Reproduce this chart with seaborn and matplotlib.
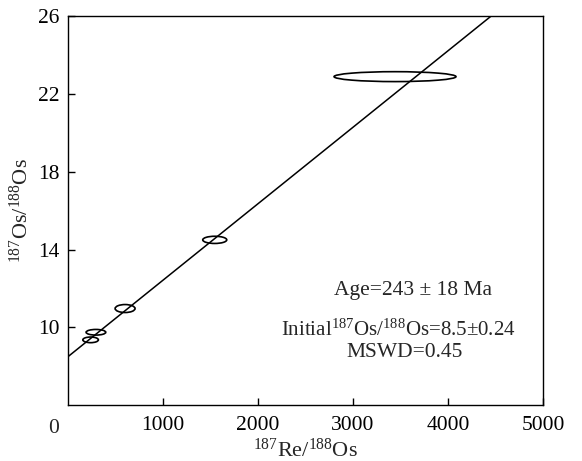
import matplotlib
matplotlib.use("Agg")
import matplotlib.pyplot as plt
from matplotlib.patches import Ellipse
import seaborn as sns
import pandas as pd

# error ellipses: centre, full width (Re/Os), full height (Os/Os)
re_os = [237, 293, 600, 1544, 3442]
os_os = [9.36, 9.75, 10.97, 14.5, 22.89]
err_x = [164, 207, 210, 253, 1284]
err_y = [0.29, 0.29, 0.41, 0.37, 0.51]

# isochron
intercept = 8.5
slope = 0.00393
x_fit = [0, 5000]

sns.set_theme(style="ticks")
plt.rcParams["font.family"] = ["Liberation Serif", "DejaVu Serif"]
plt.rcParams["mathtext.fontset"] = "custom"
plt.rcParams["mathtext.rm"] = "Liberation Serif"
plt.rcParams["mathtext.it"] = "Liberation Serif:italic"
plt.rcParams["mathtext.bf"] = "Liberation Serif:bold"

fig = plt.figure(figsize=(5.82, 4.61), dpi=100)
ax = fig.add_axes([0.117, 0.121, 0.816, 0.844])

fit = pd.DataFrame({"x": x_fit, "y": [intercept + slope * v for v in x_fit]})
sns.lineplot(data=fit, x="x", y="y", ax=ax, color="black", linewidth=1.1)

for cx, cy, w, h in zip(re_os, os_os, err_x, err_y):
    ax.add_patch(Ellipse((cx, cy), w, h, fill=False, edgecolor="black", linewidth=1.2))

ax.set_xlim(0, 5000)
ax.set_ylim(6, 26)
ax.set_xticks([1000, 2000, 3000, 4000, 5000])
ax.set_yticks([10, 14, 18, 22, 26])
ax.tick_params(direction="in", length=5, width=1, labelsize=15.5, colors="black", pad=6)
ax.tick_params(axis="x", pad=8)
for s in ax.spines.values():
    s.set_color("black")
    s.set_linewidth(1)
ax.text(-0.031, -0.035, "0", transform=ax.transAxes, ha="center", va="top", fontsize=15.5)

ax.set_xlabel(r"$\mathregular{^{187}}$Re/$\mathregular{^{188}}$Os", fontsize=16, labelpad=2)
ax.set_ylabel(r"$\mathregular{^{187}}$Os/$\mathregular{^{188}}$Os", fontsize=16, labelpad=4)

ax.text(3632, 11.9, "Age=243 ± 18 Ma", ha="center", va="center", fontsize=15.5)
ax.text(3474, 9.85, r"Initial$\mathregular{^{187}}$Os/$\mathregular{^{188}}$Os=8.5±0.24",
        ha="center", va="center", fontsize=15)
ax.text(3547, 8.72, "MSWD=0.45", ha="center", va="center", fontsize=15.5)

fig.savefig("out.png", dpi=100)
